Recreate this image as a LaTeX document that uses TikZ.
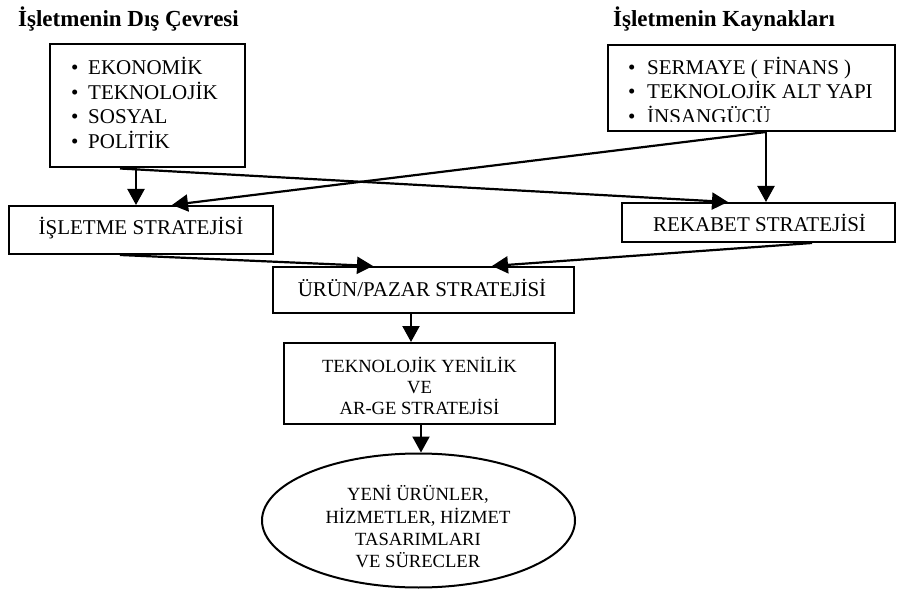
\documentclass[tikz,border=0pt]{standalone}
\usepackage{fontspec}
\setmainfont{Liberation Serif}
\usetikzlibrary{arrows.meta,shapes.geometric}
\begin{document}
\begin{tikzpicture}[x=1pt,y=-1pt,
  box/.style={draw,line width=2pt,inner sep=0pt},
  arr/.style={line width=2.2pt,-{Triangle[length=16pt,width=17pt]}},
  txt/.style={font=\fontsize{21}{24}\selectfont,inner sep=0pt},
  stxt/.style={font=\fontsize{18.6}{22}\selectfont,inner sep=0pt},
  ttl/.style={font=\fontsize{23}{26}\selectfont\bfseries,inner sep=0pt,anchor=base west}]
\useasboundingbox (0,0) rectangle (898,591);

% titles
\node[ttl] (t1) at (18,27) {İşletmenin Dış Çevresi};
\node[ttl] (t2) at (613,27) {İşletmenin Kaynakları};

% boxes
\node[box,minimum width=195pt,minimum height=123pt] (env) at (147.5,106) {};
\node[box,minimum width=287pt,minimum height=86pt] (res) at (751.5,88) {};
\node[box,minimum width=264pt,minimum height=48pt] (isl) at (141,230) {};
\node[box,minimum width=273pt,minimum height=39pt] (rek) at (758.5,222.5) {};
\node[box,minimum width=301pt,minimum height=46pt] (urun) at (423.5,290) {};
\node[box,minimum width=271pt,minimum height=81pt] (tek) at (419.5,383.5) {};
\node[box,ellipse,minimum width=313pt,minimum height=134pt] (ell) at (418.5,520.5) {};

% left list
\node[txt,anchor=base west] (b1) at (71,75) {•};
\node[txt,anchor=base west] (e1) at (88,75) {EKONOMİK};
\node[txt,anchor=base west] (b2) at (71,99.5) {•};
\node[txt,anchor=base west] (e2) at (88,99.5) {TEKNOLOJİK};
\node[txt,anchor=base west] (b3) at (71,124) {•};
\node[txt,anchor=base west] (e3) at (88,124) {SOSYAL};
\node[txt,anchor=base west] (b4) at (71,148.5) {•};
\node[txt,anchor=base west] (e4) at (88,148.5) {POLİTİK};

% right list (clipped)
\begin{scope}
\clip (609,46) rectangle (894,121.5);
\node[txt,anchor=base west] (c1) at (628,75) {•};
\node[txt,anchor=base west] (r1) at (647,75) {SERMAYE ( FİNANS )};
\node[txt,anchor=base west] (c2) at (628,99) {•};
\node[txt,anchor=base west] (r2) at (647,99) {TEKNOLOJİK ALT YAPI};
\node[txt,anchor=base west] (c3) at (628,123.5) {•};
\node[txt,anchor=base west] (r3) at (647,123.5) {İNSANGÜCÜ};
\end{scope}

% box texts
\node[txt,anchor=base] (islT) at (141,235) {İŞLETME STRATEJİSİ};
\begin{scope}
\clip (623,204) rectangle (894,230.5);
\node[txt,anchor=base] (rekT) at (759.5,231.5) {REKABET STRATEJİSİ};
\end{scope}
\node[txt,anchor=base] (urunT) at (422,297) {ÜRÜN/PAZAR STRATEJİSİ};
\node[stxt,anchor=base] (tekT1) at (419.5,372) {TEKNOLOJİK YENİLİK};
\node[stxt,anchor=base] (tekT2) at (419.5,393) {VE};
\node[stxt,anchor=base] (tekT3) at (419.5,414) {AR-GE STRATEJİSİ};
\node[stxt,anchor=base] (ellT1) at (418,500) {YENİ ÜRÜNLER,};
\node[stxt,anchor=base] (ellT2) at (418,523) {HİZMETLER, HİZMET};
\node[stxt,anchor=base] (ellT3) at (418,545) {TASARIMLARI};
\node[stxt,anchor=base] (ellT4) at (418,567) {VE SÜRECLER};

% connectors
\draw[arr] ([xshift=-11.5pt]env.south) -- ([xshift=-5pt]isl.north);
\draw[arr] ([xshift=-27.5pt]env.south) -- ([xshift=-30.5pt]rek.north);
\draw[arr] ([xshift=14.5pt]res.south) -- ([xshift=7.5pt]rek.north);
\draw[arr] ([xshift=14.5pt]res.south) -- ([xshift=31pt]isl.north);
\draw[arr] ([xshift=-21pt]isl.south) -- ([xshift=-50.5pt]urun.north);
\draw[arr] ([xshift=53.5pt]rek.south) -- ([xshift=68.5pt]urun.north);
\draw[arr] ([xshift=-12.5pt]urun.south) -- ([xshift=-8.5pt]tek.north);
\draw[arr] ([xshift=1.5pt]tek.south) -- ([xshift=2.5pt]ell.north);
\end{tikzpicture}
\end{document}
